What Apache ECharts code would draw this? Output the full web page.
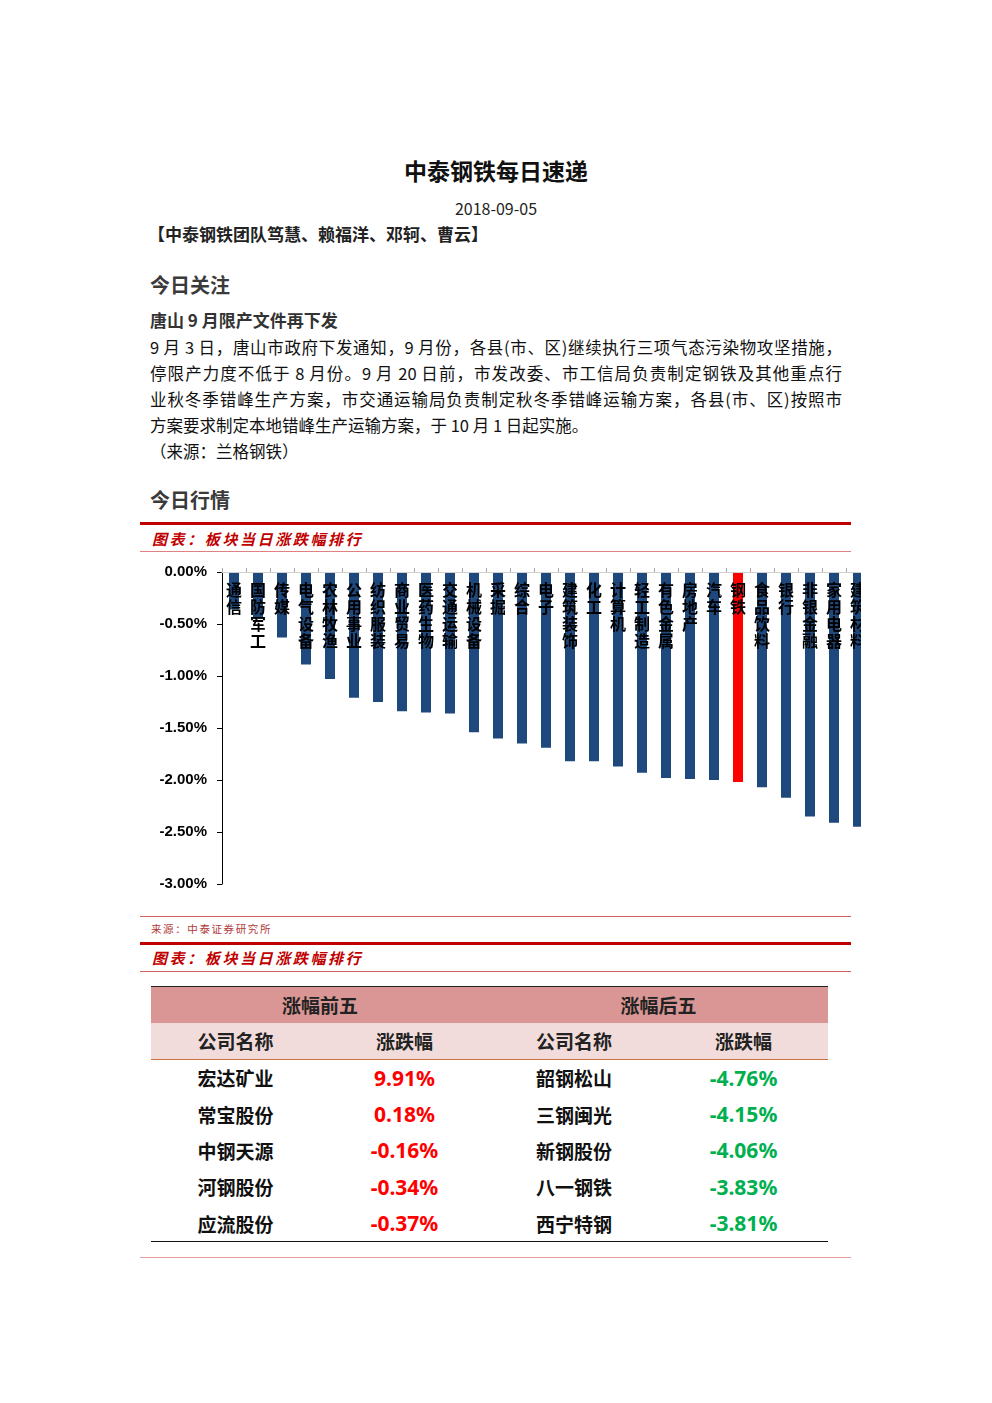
<!DOCTYPE html>
<html><head><meta charset="utf-8">
<script src="https://cdn.jsdelivr.net/npm/echarts@6/dist/echarts.min.js"></script>
<style>
body{margin:0;background:#fff;}
#page{position:relative;width:992px;height:1403px;overflow:hidden;font-family:"Noto Sans CJK SC","Noto Sans",sans-serif;color:#000;background:#fff;}
.a{position:absolute;white-space:nowrap;}
.line{position:absolute;left:140px;width:711px;}
.jl{position:absolute;left:150px;width:692px;height:26px;line-height:26px;font-size:16.5px;text-align:justify;text-align-last:justify;color:#111;}
.pl{position:absolute;left:150px;height:26px;line-height:26px;font-size:16.5px;color:#111;white-space:nowrap;}
.h2{font-size:20px;font-weight:bold;color:#3a3a3a;line-height:26px;}
.ct{font-size:15px;font-weight:bold;font-style:italic;color:#c00000;letter-spacing:2.6px;line-height:20px;}
#tbl{position:absolute;left:151px;top:986px;width:677px;border-collapse:collapse;table-layout:fixed;}
#tbl td{text-align:center;padding:0;font-weight:bold;white-space:nowrap;}
</style></head><body>
<div id="page">
  <div class="a" style="left:0;width:992px;text-align:center;top:155px;font-size:23px;line-height:30px;font-weight:bold;color:#111;">中泰钢铁每日速递</div>
  <div class="a" style="left:0;width:992px;text-align:center;top:198px;font-size:16px;line-height:20px;color:#222;">2018-09-05</div>
  <div class="a" style="left:148px;top:223px;font-size:17px;line-height:22px;font-weight:bold;color:#222;">【中泰钢铁团队笃慧、赖福洋、邓轲、曹云】</div>
  <div class="a h2" style="left:150px;top:272px;">今日关注</div>
  <div class="a" style="left:150px;top:309px;font-size:17px;line-height:22px;font-weight:bold;color:#333;">唐山 9 月限产文件再下发</div>
  <div class="jl" style="top:334px;">9 月 3 日，唐山市政府下发通知，9 月份，各县(市、区)继续执行三项气态污染物攻坚措施，</div>
  <div class="jl" style="top:360px;">停限产力度不低于 8 月份。9 月 20 日前，市发改委、市工信局负责制定钢铁及其他重点行</div>
  <div class="jl" style="top:386px;">业秋冬季错峰生产方案，市交通运输局负责制定秋冬季错峰运输方案，各县(市、区)按照市</div>
  <div class="pl" style="top:412px;">方案要求制定本地错峰生产运输方案，于 10 月 1 日起实施。</div>
  <div class="pl" style="top:438px;">（来源：兰格钢铁）</div>
  <div class="a h2" style="left:150px;top:487px;">今日行情</div>

  <div class="line" style="top:522px;height:3px;background:#c00000;"></div>
  <div class="a ct" style="left:152px;top:529px;">图表：板块当日涨跌幅排行</div>
  <div class="line" style="top:551px;height:1px;background:#e08080;"></div>

  <div style="position:absolute;left:140px;top:555px;width:721px;height:350px;overflow:hidden;">
    <div id="chart" style="width:740px;height:350px;"></div>
  </div>

  <div class="line" style="top:916px;height:1px;background:#d06060;"></div>
  <div class="a" style="left:151px;top:922px;font-size:10.5px;line-height:14px;color:#b03a3a;letter-spacing:1.6px;">来源：中泰证券研究所</div>
  <div class="line" style="top:942px;height:3px;background:#c00000;"></div>
  <div class="a ct" style="left:152px;top:948px;">图表：板块当日涨跌幅排行</div>
  <div class="line" style="top:971px;height:1px;background:#d06060;"></div>

  <table id="tbl"></table>
  <div class="line" style="top:1257px;height:1px;background:#e6a0a0;"></div>
</div>
<script>
// ---- chart data ----
const categories = ['通信','国防军工','传媒','电气设备','农林牧渔','公用事业','纺织服装','商业贸易','医药生物','交通运输','机械设备','采掘','综合','电子','建筑装饰','化工','计算机','轻工制造','有色金属','房地产','汽车','钢铁','食品饮料','银行','非银金融','家用电器','建筑材料'];
const values = [-0.36,-0.45,-0.63,-0.89,-1.03,-1.21,-1.25,-1.34,-1.35,-1.36,-1.54,-1.60,-1.65,-1.69,-1.82,-1.82,-1.87,-1.93,-1.98,-1.99,-2.00,-2.02,-2.07,-2.17,-2.35,-2.41,-2.45];
const highlight = '钢铁';
const yMin = -3, yMax = 0, yStep = 0.5;

// ---- table data ----
const groupHeaders = ['涨幅前五','涨幅后五'];
const colHeaders = ['公司名称','涨跌幅','公司名称','涨跌幅'];
const topNames = ['宏达矿业','常宝股份','中钢天源','河钢股份','应流股份'];
const topChanges = ['9.91%','0.18%','-0.16%','-0.34%','-0.37%'];
const bottomNames = ['韶钢松山','三钢闽光','新钢股份','八一钢铁','西宁特钢'];
const bottomChanges = ['-4.76%','-4.15%','-4.06%','-3.83%','-3.81%'];

// build table
(function(){
  const t = document.getElementById('tbl');
  let h = '<colgroup><col style="width:169px"><col style="width:169px"><col style="width:170px"><col style="width:169px"></colgroup>';
  h += '<tr style="height:36px;background:#d99694;border-top:1px solid #222;">' +
       '<td colspan="2" style="font-size:19px;color:#222;">'+groupHeaders[0]+'</td>' +
       '<td colspan="2" style="font-size:19px;color:#222;">'+groupHeaders[1]+'</td></tr>';
  h += '<tr style="height:37px;background:#f2dcdb;border-bottom:1px solid #c8733e;">' +
       colHeaders.map(c=>'<td style="font-size:19px;color:#222;">'+c+'</td>').join('') + '</tr>';
  for(let i=0;i<topNames.length;i++){
    const last = i===topNames.length-1;
    h += '<tr style="height:36.4px;'+(last?'border-bottom:1px solid #111;':'')+'">' +
      '<td style="font-size:19px;color:#111;">'+topNames[i]+'</td>' +
      '<td style="font-size:21px;color:#ff0000;font-family:\'Noto Sans\',sans-serif;">'+topChanges[i]+'</td>' +
      '<td style="font-size:19px;color:#111;">'+bottomNames[i]+'</td>' +
      '<td style="font-size:21px;color:#00b050;font-family:\'Noto Sans\',sans-serif;">'+bottomChanges[i]+'</td></tr>';
  }
  t.innerHTML = h;
})();

const chart = echarts.init(document.getElementById('chart'), null, {renderer:'canvas'});
chart.setOption({
  animation:false,
  backgroundColor:'transparent',
  grid:{left:82, right:10, top:17, bottom:21, containLabel:false},
  xAxis:{
    type:'category', position:'top', data:categories, z:10,
    axisLine:{show:true, onZero:false, lineStyle:{color:'#d0d0d0', width:1}},
    axisTick:{show:true, length:4, inside:false, lineStyle:{color:'#a6a6a6'}},
    axisLabel:{
      inside:true, interval:0, margin:9, color:'#000', fontSize:16, fontWeight:'bold',
      fontFamily:'"Noto Sans CJK SC", sans-serif', lineHeight:17, verticalAlign:'top',
      formatter:v=>v.split('').join('\n')
    },
    splitLine:{show:false}
  },
  yAxis:{
    type:'value', min:yMin, max:yMax, interval:yStep,
    axisLine:{show:true, lineStyle:{color:'#000', width:1}},
    axisTick:{show:true, length:5, lineStyle:{color:'#000'}},
    axisLabel:{color:'#000', fontSize:15, fontWeight:'bold', fontFamily:'"Liberation Sans", Arial, sans-serif', margin:15,
      formatter:v=>v.toFixed(2)+'%'},
    splitLine:{show:false}
  },
  series:[{
    type:'bar', barWidth:10, z:1,
    data:values.map((v,i)=>({value:v, itemStyle:{color: categories[i]===highlight ? '#ff0000' : '#1f497d'}}))
  }]
});
</script>
</body></html>
